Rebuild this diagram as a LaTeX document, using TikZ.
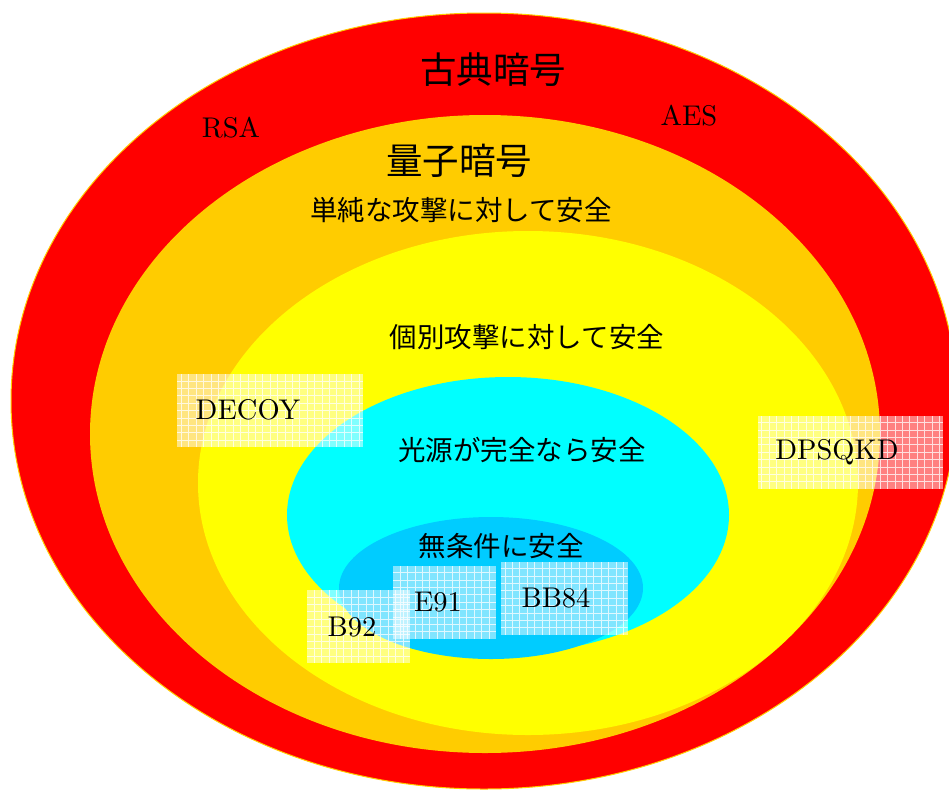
\documentclass[tikz,border=0pt]{standalone}
\usepackage{graphicx}
\usepackage{fontspec}
\newfontfamily\jp{Noto Sans CJK JP}
\definecolor{cred}{HTML}{FF0000}
\definecolor{corange}{HTML}{FFCC00}
\definecolor{cyellow}{HTML}{FFFF00}
\definecolor{ccyan}{HTML}{00FFFF}
\definecolor{cblue}{HTML}{00CCFF}
\begin{document}
\begin{tikzpicture}[x=1pt,y=-1pt,
  jpbig/.style={font=\jp\fontsize{36.5}{40}\selectfont, inner sep=0pt},
  jpmid/.style={font=\jp\fontsize{27.5}{32}\selectfont, inner sep=0pt},
  lat/.style={font=\fontsize{10}{12}\selectfont, inner sep=0pt, scale=2.85},
  gbox/.style={fill=white, fill opacity=0.5, inner sep=0pt, minimum height=73pt,
    path picture={\draw[white, line width=0.6pt, opacity=0.75]
      (path picture bounding box.south west) grid[step=7.4pt]
      (path picture bounding box.north east);}}]
\useasboundingbox (0,0) rectangle (949,790);
\clip (0,0) rectangle (949,790);
% rings
\path[fill=cred, draw=corange, line width=1pt] (484,401) ellipse [x radius=473, y radius=388];
\fill[corange] (485,434) ellipse [x radius=395, y radius=319];
\fill[cyellow] (528,483) ellipse [x radius=330, y radius=252];
\fill[ccyan] (508,515) ellipse [x radius=221, y radius=138];
\fill[cblue] (491,588) ellipse [x radius=152, y radius=71];
% titles
\node[jpbig] (classic) at (493,70) {古典暗号};
\node[jpbig] (quantum) at (459,161) {量子暗号};
\node[jpmid] (simple) at (461,210) {単純な攻撃に対して安全};
\node[jpmid] (indiv) at (527,337) {個別攻撃に対して安全};
\node[jpmid] (source) at (522,450) {光源が完全なら安全};
\node[jpmid] (uncond) at (501,546) {無条件に安全};
\node[lat] (rsa) at (231,128) {RSA};
\node[lat] (aes) at (689,116) {AES};
% boxes
\node[gbox, minimum width=186pt] (decoybox) at (270,410.5) {};
\node[lat] (decoy) at (248,410) {DECOY};
\node[gbox, minimum width=185pt] (dpsbox) at (850.5,452) {};
\node[lat] (dps) at (837,452) {DPSQKD};
\node[gbox, minimum width=103pt] (b92box) at (358.5,626.5) {};
\node[lat] (b92) at (352,627) {B92};
\node[gbox, minimum width=103pt] (e91box) at (444.5,602) {};
\node[lat] (e91) at (438,602) {E91};
\node[gbox, minimum width=127pt] (bbbox) at (564,598) {};
\node[lat] (bb84) at (556,598) {BB84};
\end{tikzpicture}
\end{document}
